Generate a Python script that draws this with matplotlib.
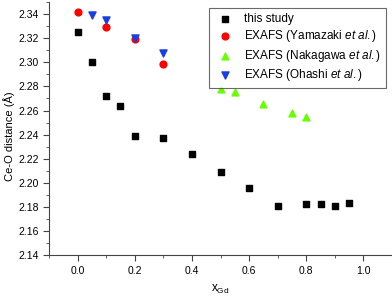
import numpy as np
import matplotlib
matplotlib.use('Agg')
import matplotlib.pyplot as plt
from matplotlib.ticker import MultipleLocator

plt.rcParams['font.family'] = ['Liberation Sans', 'DejaVu Sans']
plt.rcParams['mathtext.fontset'] = 'custom'
plt.rcParams['mathtext.it'] = 'Liberation Sans:italic'
plt.rcParams['mathtext.rm'] = 'Liberation Sans'

study_x = [0.0, 0.05, 0.1, 0.15, 0.2, 0.3, 0.4, 0.5, 0.6, 0.7, 0.8, 0.85, 0.9, 0.95]
study_y = [2.325, 2.300, 2.272, 2.264, 2.239, 2.237, 2.224, 2.209, 2.196, 2.181,
           2.182, 2.182, 2.181, 2.183]
yamazaki_x = [0.0, 0.1, 0.2, 0.3]
yamazaki_y = [2.342, 2.329, 2.319, 2.299]
nakagawa_x = [0.5, 0.55, 0.65, 0.75, 0.8]
nakagawa_y = [2.278, 2.275, 2.265, 2.258, 2.255]
ohashi_x = [0.05, 0.1, 0.2, 0.3]
ohashi_y = [2.339, 2.335, 2.320, 2.308]

fig = plt.figure(figsize=(3.92, 2.98), dpi=100)
ax = fig.add_axes([0.125, 0.144, 0.875, 0.849])

ax.scatter(study_x, study_y, marker='s', s=16, color='black', label='this study', zorder=3)
ax.scatter(yamazaki_x, yamazaki_y, marker='o', s=24, color='#ff0000',
           label=r'EXAFS (Yamazaki $\it{et\ al.}$)', zorder=3)
ax.scatter(nakagawa_x, nakagawa_y, marker='^', s=24, color='#66ff00',
           label=r'EXAFS (Nakagawa $\it{et\ al.}$)', zorder=3)
ax.scatter(ohashi_x, ohashi_y, marker='v', s=26, color='#1a3fe0',
           label=r'EXAFS (Ohashi $\it{et\ al.}$)', zorder=4)

ax.set_xlim(-0.1, 1.1)
ax.set_ylim(2.14, 2.35)
ax.xaxis.set_minor_locator(MultipleLocator(0.1))
ax.yaxis.set_minor_locator(MultipleLocator(0.01))
ax.set_xticks(np.arange(0, 1.01, 0.2))
ax.set_xticklabels(['0.0', '0.2', '0.4', '0.6', '0.8', '1.0'])
ax.set_yticks(np.arange(2.14, 2.341, 0.02))
ax.set_yticklabels(['%.2f' % v for v in np.arange(2.14, 2.341, 0.02)])

for s in ['top', 'right']:
    ax.spines[s].set_visible(False)
for s in ['left', 'bottom']:
    ax.spines[s].set_color('#444444')
    ax.spines[s].set_linewidth(0.8)
ax.tick_params(which='both', direction='out', color='#444444', labelsize=7.5)
ax.tick_params(which='major', length=4)
ax.tick_params(which='minor', length=2.5)

ax.set_ylabel('Ce-O distance (Å)', fontsize=8)
ax.yaxis.set_label_coords(-0.1, 0.47)
ax.set_xlabel(r'x$_{\mathrm{Gd}}$', fontsize=8.5)
ax.xaxis.set_label_coords(0.5, -0.11)

leg = ax.legend(loc='upper right', fontsize=8.5, frameon=True, fancybox=False,
                edgecolor='#444444', handletextpad=0.6, borderpad=0.4,
                labelspacing=0.3, bbox_to_anchor=(1.0, 1.0))
leg.get_frame().set_linewidth(0.8)

fig.savefig('out.png', dpi=100)
